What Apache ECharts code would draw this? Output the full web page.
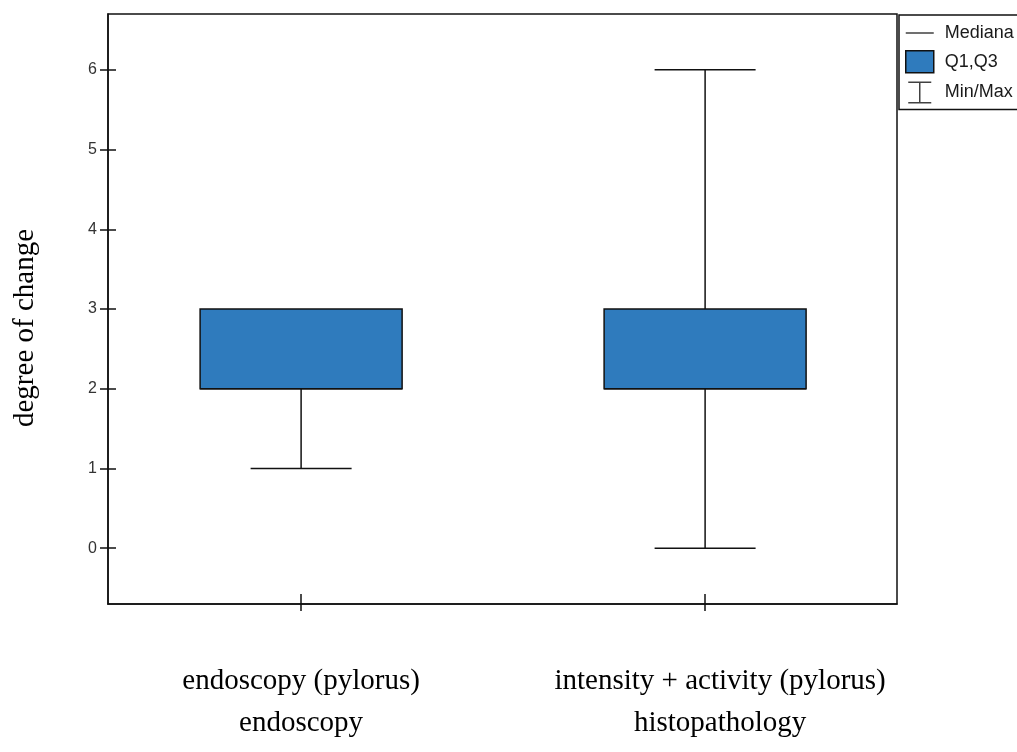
<!DOCTYPE html>
<html>
<head>
<meta charset="utf-8">
<script src="https://cdn.jsdelivr.net/npm/echarts@6/dist/echarts.min.js"></script>
<style>
  html, body { margin: 0; padding: 0; background: #fff; }
  #chart { width: 1017px; height: 752px; }
</style>
</head>
<body>
<div id="chart"></div>
<script>
// categories (two-line x labels)
const categories = ['endoscopy (pylorus)', 'intensity + activity (pylorus)']
const groups = ['endoscopy', 'histopathology']

// box statistics per category
const minVals = [1, 0]
const q1Vals = [2, 2]
const medianVals = [2, 2]
const q3Vals = [3, 3]
const maxVals = [3, 6]

const yTicks = [0, 1, 2, 3, 4, 5, 6]
const xTicks = [0, 1]

const boxColor = '#2f7bbd'
const ink = '#111'

const boxData = categories.map(function (c, i) {
  return [i, minVals[i], q1Vals[i], medianVals[i], q3Vals[i], maxVals[i]]
})

const boxHalf = 0.25
const capHalf = 0.125

function renderBox(params, api) {
  const x = api.value(0)
  const lo = api.value(1)
  const q1 = api.value(2)
  const med = api.value(3)
  const q3 = api.value(4)
  const hi = api.value(5)
  const pt = function (dx, v) { return api.coord([x + dx, v]) }
  const line = function (a, b) {
    return {
      type: 'line',
      shape: { x1: a[0], y1: a[1], x2: b[0], y2: b[1] },
      style: { stroke: ink, lineWidth: 1.5 }
    }
  }
  const tl = pt(-boxHalf, q3)
  const br = pt(boxHalf, q1)
  const children = []
  if (lo < q1) {
    children.push(line(pt(0, lo), pt(0, q1)))
    children.push(line(pt(-capHalf, lo), pt(capHalf, lo)))
  }
  if (hi > q3) {
    children.push(line(pt(0, q3), pt(0, hi)))
    children.push(line(pt(-capHalf, hi), pt(capHalf, hi)))
  }
  children.push({
    type: 'rect',
    shape: { x: tl[0], y: tl[1], width: br[0] - tl[0], height: br[1] - tl[1] },
    style: { fill: boxColor, stroke: ink, lineWidth: 1.5 }
  })
  children.push(line(pt(-boxHalf, med), pt(boxHalf, med)))
  return { type: 'group', children: children }
}

const axisBase = {
  type: 'value',
  min: -0.7,
  max: 6.7,
  splitLine: { show: false }
}

let option = {
  animation: false,
  backgroundColor: '#fff',
  grid: {
    left: 108,
    top: 14,
    right: 120,
    bottom: 148,
    show: true,
    borderColor: ink,
    borderWidth: 1.5
  },
  legend: {
    orient: 'vertical',
    left: 899,
    top: 15,
    padding: [9, 40, 6, 6],
    itemGap: 8,
    itemWidth: 28,
    itemHeight: 22,
    selectedMode: false,
    backgroundColor: '#fff',
    borderColor: ink,
    borderWidth: 1.5,
    borderRadius: 0,
    textStyle: {
      fontFamily: 'Liberation Sans',
      fontSize: 18,
      color: '#1a1a1a',
      padding: [0, 0, 0, 6]
    },
    data: [
      { name: 'Mediana', icon: 'path://M0,0H28V1.5H0Z', itemStyle: { color: ink } },
      { name: 'Q1,Q3', icon: 'rect', itemStyle: { color: boxColor, borderColor: ink, borderWidth: 1.5 } },
      { name: 'Min/Max', icon: 'path://M0,0H23V1.5H12.25V20.5H23V22H0V20.5H10.75V1.5H0Z', itemStyle: { color: ink } }
    ]
  },
  xAxis: [
    {
      type: 'value',
      min: -0.478,
      max: 1.475,
      splitLine: { show: false },
      axisLine: { onZero: false, lineStyle: { color: ink, width: 1.5 } },
      axisTick: { customValues: xTicks, length: 7, lineStyle: { color: ink, width: 1.5 } },
      axisLabel: {
        customValues: xTicks,
        margin: 56,
        formatter: function (v) {
          const s = v === 1 ? 'b' : 'a'
          return '{' + s + '|' + categories[v] + '}\n{' + s + '|' + groups[v] + '}'
        },
        rich: {
          a: { fontFamily: 'Liberation Serif', fontSize: 29, lineHeight: 42, color: '#000' },
          b: { fontFamily: 'Liberation Serif', fontSize: 29, lineHeight: 42, color: '#000', padding: [0, 0, 0, 30] }
        }
      }
    },
    {
      type: 'value',
      min: -0.478,
      max: 1.475,
      position: 'bottom',
      splitLine: { show: false },
      axisLine: { show: false, onZero: false },
      axisTick: { inside: true, customValues: xTicks, length: 10, lineStyle: { color: ink, width: 1.5 } },
      axisLabel: { show: false }
    }
  ],
  yAxis: [
    Object.assign({}, axisBase, {
      name: 'degree of change',
      nameLocation: 'middle',
      nameGap: 68,
      nameTextStyle: {
        fontFamily: 'Liberation Serif',
        fontSize: 29,
        color: '#000',
        padding: [0, 38, 0, 0]
      },
      axisLine: { onZero: false, lineStyle: { color: ink, width: 1.5 } },
      axisTick: { customValues: yTicks, length: 8, lineStyle: { color: ink, width: 1.5 } },
      axisLabel: {
        customValues: yTicks,
        margin: 11,
        fontFamily: 'Liberation Sans',
        fontSize: 16,
        color: '#333'
      }
    }),
    Object.assign({}, axisBase, {
      position: 'left',
      axisLine: { show: false, onZero: false },
      axisTick: { inside: true, customValues: yTicks, length: 8, lineStyle: { color: ink, width: 1.5 } },
      axisLabel: { show: false }
    })
  ],
  series: [
    {
      name: 'Q1,Q3',
      type: 'custom',
      xAxisIndex: 0,
      yAxisIndex: 0,
      renderItem: renderBox,
      encode: { x: 0, y: [1, 2, 3, 4, 5] },
      data: boxData,
      z: 3
    },
    { name: 'Mediana', type: 'scatter', data: [] },
    { name: 'Min/Max', type: 'scatter', data: [] }
  ]
}

const myChart = echarts.init(document.getElementById('chart'))
myChart.setOption(option)
</script>
</body>
</html>
